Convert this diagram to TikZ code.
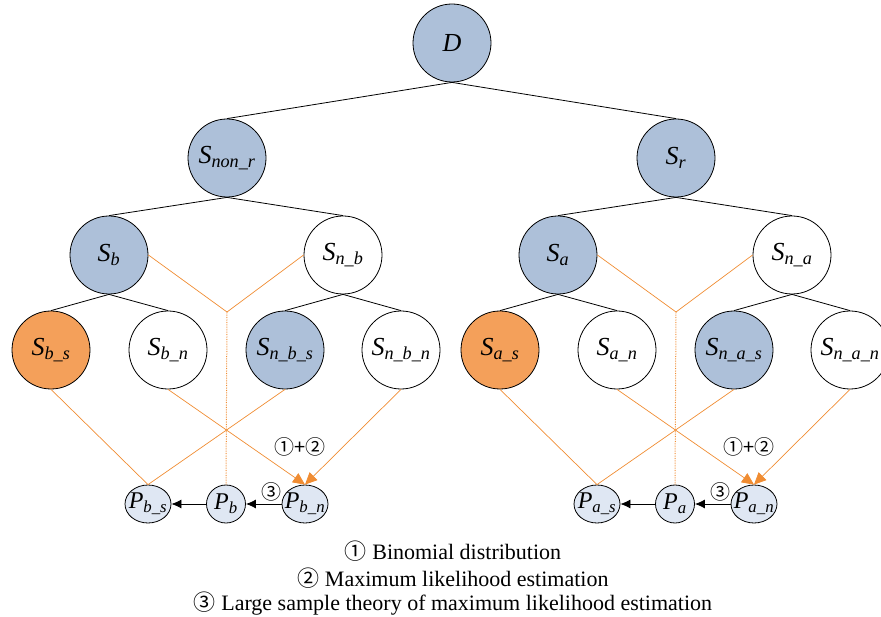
\documentclass[tikz,border=0pt]{standalone}
\usepackage{fontspec}
\setmainfont{Liberation Serif}
\newfontfamily\circfont{Noto Sans CJK SC}
\usetikzlibrary{shapes.geometric,arrows.meta}
\definecolor{nodeblue}{RGB}{173,192,217}
\definecolor{nodeorange}{RGB}{244,160,90}
\definecolor{pblue}{RGB}{223,231,243}
\definecolor{lineorange}{RGB}{240,140,50}
\newcommand{\sv}[2]{\textit{#1\textsubscript{#2}}}
\newcommand{\pv}[1]{\makebox[0pt]{\sv{P}{#1}}}
\tikzset{
  snode/.style={circle,draw,line width=0.8pt,minimum size=78pt,inner sep=0pt,
    font=\fontsize{26}{30}\selectfont},
  pnode/.style={ellipse,draw,fill=pblue,line width=0.8pt,minimum width=46pt,
    minimum height=38pt,inner sep=0pt,font=\fontsize{24}{28}\selectfont},
  oline/.style={lineorange,line width=0.7pt},
  oarrow/.style={lineorange,line width=0.7pt,-{Triangle[length=12pt,width=11pt]}},
  parrow/.style={line width=0.8pt,-{Latex[length=10pt,width=9pt]}},
  num/.style={inner sep=0pt,font=\circfont\fontsize{20}{22}\selectfont},
  caption/.style={inner sep=0pt,font=\fontsize{22}{26}\selectfont},
}
\begin{document}
\begin{tikzpicture}[x=1pt,y=-1pt]
      \useasboundingbox (0,0) rectangle (881,617);
      \draw
        (452,43) node[snode,fill=nodeblue] (d){\textit{D}}
        (227,158) node[snode,fill=nodeblue] (snr){\sv{S}{non\_r}}
        (676,158) node[snode,fill=nodeblue] (sr){\sv{S}{r}}
        (109,255) node[snode,fill=nodeblue] (sb){\sv{S}{b}}
        (343,255) node[snode] (snb){\sv{S}{n\_b}}
        (558,255) node[snode,fill=nodeblue] (sa){\sv{S}{a}}
        (792,255) node[snode] (sna){\sv{S}{n\_a}}
        (51,350) node[snode,fill=nodeorange] (sbs){\sv{S}{b\_s}}
        (168,350) node[snode] (sbn){\sv{S}{b\_n}}
        (285,350) node[snode,fill=nodeblue] (snbs){\sv{S}{n\_b\_s}}
        (401,350) node[snode] (snbn){\sv{S}{n\_b\_n}}
        (500,350) node[snode,fill=nodeorange] (sas){\sv{S}{a\_s}}
        (617,350) node[snode] (san){\sv{S}{a\_n}}
        (734,350) node[snode,fill=nodeblue] (snas){\sv{S}{n\_a\_s}}
        (850,350) node[snode] (snan){\sv{S}{n\_a\_n}}
        (148,504) node[pnode] (pbs){\pv{b\_s}}
        (226,504) node[pnode,minimum width=39pt] (pb){\pv{b}}
        (305,504) node[pnode] (pbn){\pv{b\_n}}
        (597,504) node[pnode] (pas){\pv{a\_s}}
        (675,504) node[pnode,minimum width=39pt] (pa){\pv{a}}
        (754,504) node[pnode] (pan){\pv{a\_n}};
      \coordinate (jb) at (227,312);
      \coordinate (ja) at (676,312);
      \begin{scope}[line width=0.8pt]
        \draw (d.south) to (snr.north);
        \draw (d.south) to (sr.north);
        \draw (snr.south) to (sb.north);
        \draw (snr.south) to (snb.north);
        \draw (sr.south) to (sa.north);
        \draw (sr.south) to (sna.north);
        \draw (sb.south) to (sbs.north);
        \draw (sb.south) to (sbn.north);
        \draw (snb.south) to (snbs.north);
        \draw (snb.south) to (snbn.north);
        \draw (sa.south) to (sas.north);
        \draw (sa.south) to (san.north);
        \draw (sna.south) to (snas.north);
        \draw (sna.south) to (snan.north);
      \end{scope}
      % orange links, left half
      \draw[oline] (sb.east) -- (jb) -- (snb.west);
      \draw[oline,densely dotted,line width=1pt] (jb) -- (pb.north);
      \draw[oline] (sbs.south) -- (pbs.north);
      \draw[oline] (snbs.south) -- (pbs.north);
      \draw[oarrow] (sbn.south) -- (pbn.north);
      \draw[oarrow] (snbn.south) -- (pbn.north);
      % orange links, right half
      \draw[oline] (sa.east) -- (ja) -- (sna.west);
      \draw[oline,densely dotted,line width=1pt] (ja) -- (pa.north);
      \draw[oline] (sas.south) -- (pas.north);
      \draw[oline] (snas.south) -- (pas.north);
      \draw[oarrow] (san.south) -- (pan.north);
      \draw[oarrow] (snan.south) -- (pan.north);
      \draw[parrow] (pbn) -- (pb);
      \draw[parrow] (pb) -- (pbs);
      \draw[parrow] (pan) -- (pa);
      \draw[parrow] (pa) -- (pas);
      \node[num] (lb12) at (300,447) {①+②};
      \node[num] (lb3) at (271,492) {③};
      \node[num] (la12) at (749,447) {①+②};
      \node[num] (la3) at (720,492) {③};
      \node[caption] (cap1) at (453,551) {{\circfont ①} Binomial distribution};
      \node[caption] (cap2) at (453,578) {{\circfont ②} Maximum likelihood estimation};
      \node[caption] (cap3) at (453,604) {{\circfont ③} Large sample theory of maximum likelihood estimation};
    \end{tikzpicture}
\end{document}
